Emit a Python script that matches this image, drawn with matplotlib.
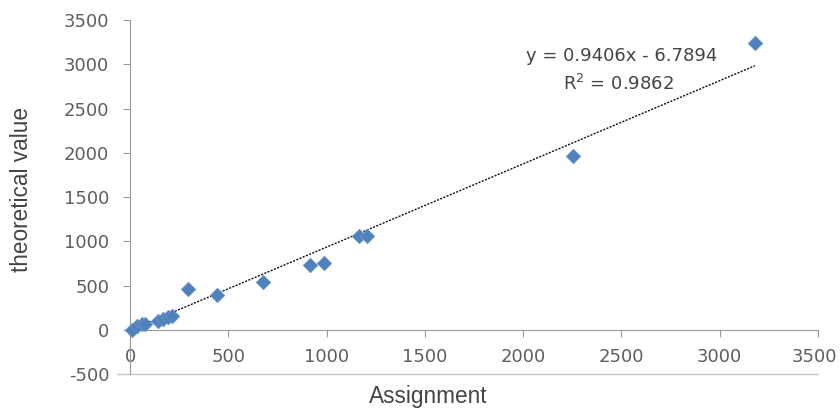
import matplotlib
matplotlib.use('Agg')
import matplotlib.pyplot as plt
import matplotlib.transforms as mtransforms
import numpy as np

plt.rcParams['axes.unicode_minus'] = False

# --- data ---
assignment = [10, 36, 61, 77, 143, 168, 194, 214, 296, 444, 679, 918, 985, 1163, 1204, 2255, 3179]
theoretical = [0, 45, 68, 68, 102, 125, 148, 159, 455, 398, 534, 727, 750, 1057, 1060, 1966, 3239]
slope, intercept = 0.9406, -6.7894
xticks = [0, 500, 1000, 1500, 2000, 2500, 3000, 3500]
yticks = [-500, 0, 500, 1000, 1500, 2000, 2500, 3000, 3500]

fig = plt.figure(figsize=(8.4, 4.09), dpi=100)
ax = fig.add_axes([0.1548, 0.0856, 0.819, 0.8654])

# trendline
tx = np.array([0, max(assignment)])
ax.plot(tx, slope * tx + intercept, color='#111111', lw=1.0, ls=(0, (1.5, 1.0)), zorder=2)

ax.scatter(assignment, theoretical, marker='D', s=55, color='#4F81BD',
           edgecolor='#6A95C9', lw=0.5, zorder=3, clip_on=False)

ax.set_xlim(0, 3500)
ax.set_ylim(-500, 3500)
ax.set_xticks(xticks)
ax.set_yticks(yticks)

for s in ['top', 'right']:
    ax.spines[s].set_visible(False)
ax.spines['bottom'].set_position(('data', 0))
ax.spines['bottom'].set_color('#9a9a9a')
ax.spines['left'].set_color('#9a9a9a')
ax.plot([-66, 3500], [-500, -500], color='#c8c8c8', lw=1, clip_on=False)

ax.tick_params(axis='both', colors='#9a9a9a', length=5, width=0.8,
               labelcolor='#5e5e5e', labelsize=13)
ax.tick_params(axis='x', pad=8)
ax.tick_params(axis='y', pad=10)
for lab in ax.get_xticklabels() + ax.get_yticklabels():
    lab.set_family('DejaVu Sans')
# keep the last x label inside the figure
last = ax.get_xticklabels()[-1]
last.set_transform(last.get_transform() + mtransforms.ScaledTranslation(-4 / 100, 0, fig.dpi_scale_trans))

ax.set_xlabel('Assignment', fontsize=16.3, family='Liberation Sans', color='#444444')
ax.xaxis.set_label_coords(0.433, -0.03)
ax.set_ylabel('theoretical value', fontsize=16.3, family='Liberation Sans', color='#444444')
ax.yaxis.set_label_coords(-0.141, 0.52)

ax.text(2500, 3090, 'y = 0.9406x - 6.7894', fontsize=13, color='#444444',
        family='DejaVu Sans', ha='center', va='center')
ax.text(2485, 2780, 'R$^2$ = 0.9862', fontsize=13, color='#444444',
        family='DejaVu Sans', ha='center', va='center')

fig.savefig('out.png', dpi=100)
